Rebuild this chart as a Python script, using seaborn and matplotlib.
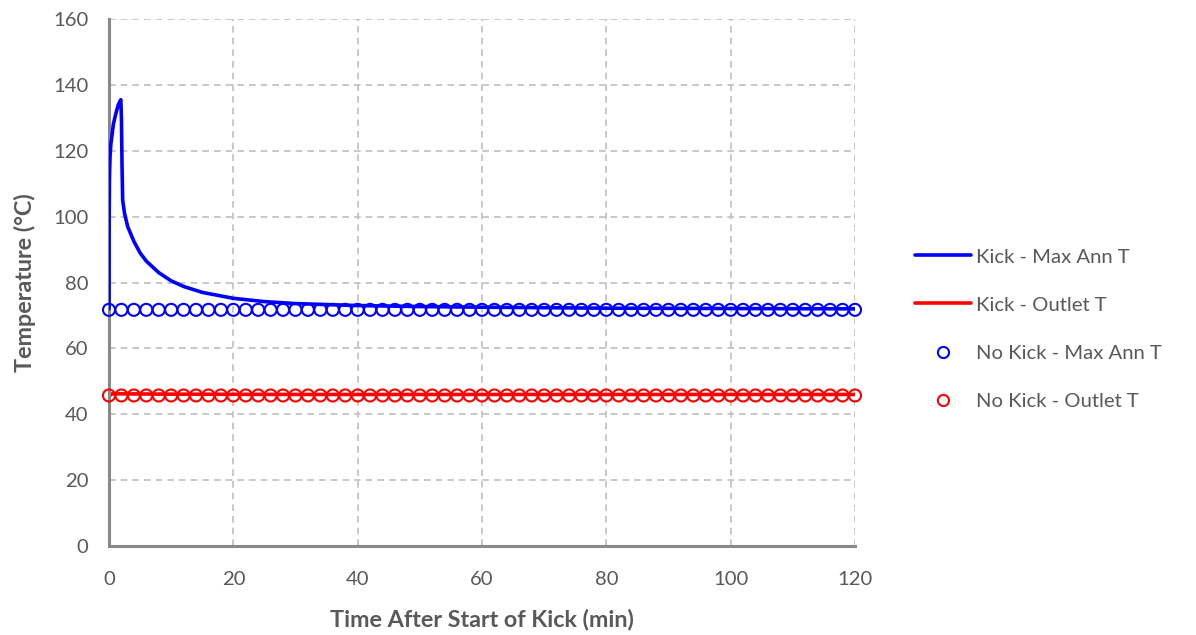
import matplotlib
matplotlib.use("Agg")
import matplotlib.pyplot as plt
import seaborn as sns
import numpy as np
import pandas as pd
from matplotlib.lines import Line2D

# ---- data ----
kick_time = [0, 0.03, 0.08, 0.16, 0.3, 0.5, 0.7, 1.0, 1.2, 1.5, 1.9, 2.0, 2.1, 2.2,
             2.5, 3, 4, 5, 6, 8, 10, 12, 15, 20, 25, 30, 40, 50, 60, 80, 100, 120]
kick_max_ann = [72, 100, 112, 118, 122, 125, 128, 130.5, 132, 134, 135.5, 130, 115, 105,
                101, 97, 92.5, 89, 86.5, 83, 80.5, 78.8, 77, 75.2, 74.2, 73.6, 73, 72.7,
                72.5, 72.2, 72.1, 72.0]
kick_outlet_time = [0, 0.5, 2, 10, 30, 60, 90, 120]
kick_outlet = [45.5, 46.2, 46.2, 46.1, 46.0, 46.0, 46.0, 46.0]

nokick_time = list(range(0, 121, 2))
nokick_max_ann = [71.7] * len(nokick_time)
nokick_outlet = [45.7] * len(nokick_time)

labels = ["Kick - Max Ann T", "Kick - Outlet T", "No Kick - Max Ann T", "No Kick - Outlet T"]
x_ticks = [0, 20, 40, 60, 80, 100, 120]
y_ticks = [0, 20, 40, 60, 80, 100, 120, 140, 160]

sns.set_style("white")
plt.rcParams["font.family"] = ["Lato", "DejaVu Sans"]

gray = "#595959"
fs = 14.6
fig = plt.figure(figsize=(11.96, 6.35), dpi=100)
ax = fig.add_axes([109/1196, 1-546/635, (855-109)/1196, (546-19)/635])

df_nk = pd.DataFrame({"t": nokick_time, "a": nokick_max_ann, "o": nokick_outlet})
sns.scatterplot(data=df_nk, x="t", y="o", ax=ax, marker="o", s=75, facecolors="none",
                edgecolor="#ff0000", linewidth=1.5, zorder=3, clip_on=False)
sns.scatterplot(data=df_nk, x="t", y="a", ax=ax, marker="o", s=75, facecolors="none",
                edgecolor="#0000ff", linewidth=1.5, zorder=3, clip_on=False)
sns.lineplot(x=kick_outlet_time, y=kick_outlet, ax=ax, color="#ff0000", linewidth=2.6, zorder=2)
sns.lineplot(x=kick_time, y=kick_max_ann, ax=ax, color="#0000ff", linewidth=2.6, zorder=4)

ax.set_xlim(0, 120)
ax.set_ylim(0, 160)
ax.set_xticks(x_ticks)
ax.set_yticks(y_ticks)
ax.grid(True, color="#bfbfbf", linestyle=(0, (4, 3)), linewidth=1.2)
ax.set_axisbelow(True)
for s in ["top", "right"]:
    ax.spines[s].set_visible(False)
for s in ["left", "bottom"]:
    ax.spines[s].set_color("#898989")
    ax.spines[s].set_linewidth(2.2)
ax.tick_params(axis="both", colors="#898989", labelcolor=gray, labelsize=fs,
               length=6, width=1.5, direction="out")
ax.tick_params(axis="y", pad=9)
ax.tick_params(axis="x", pad=12)
ax.set_xlabel("Time After Start of Kick (min)", fontsize=16.8, fontweight="bold", color=gray, labelpad=15)
ax.set_ylabel("Temperature (°C)", fontsize=16.8, fontweight="bold", color=gray, labelpad=12)

handles = [
    Line2D([], [], color="#0000ff", linewidth=2.6),
    Line2D([], [], color="#ff0000", linewidth=2.6),
    Line2D([], [], color="#0000ff", marker="o", linestyle="none", markersize=8,
           markerfacecolor="none", markeredgewidth=1.5),
    Line2D([], [], color="#ff0000", marker="o", linestyle="none", markersize=8,
           markerfacecolor="none", markeredgewidth=1.5),
]
leg = fig.legend(handles, labels, loc="center left", bbox_to_anchor=(915/1196, 1-329/635),
                 frameon=False, fontsize=fs, handlelength=2.75, handletextpad=0.25,
                 labelspacing=1.52, labelcolor=gray, borderpad=0, borderaxespad=0)

fig.savefig("out.png", dpi=100)
